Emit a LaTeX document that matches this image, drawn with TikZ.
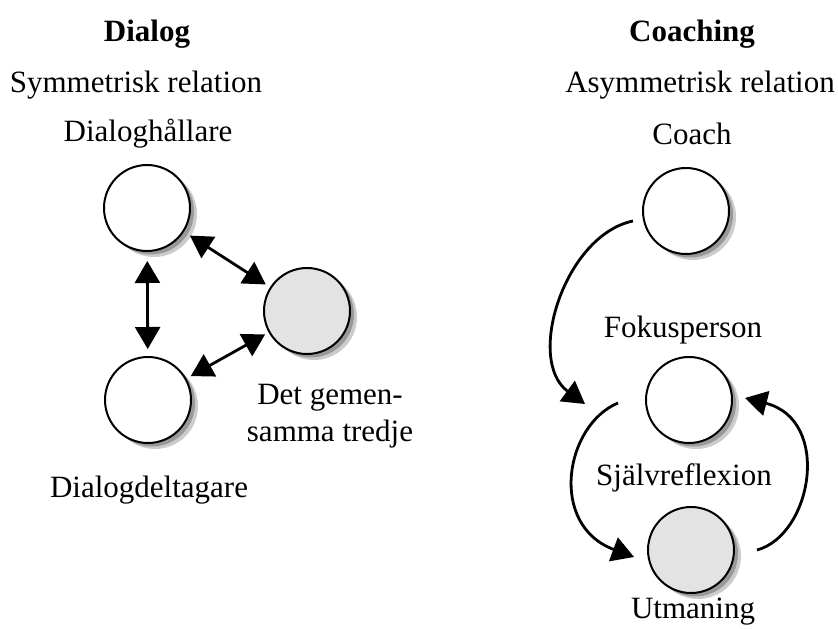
\documentclass[tikz,border=0pt]{standalone}
\usepackage{fontspec}
\setmainfont{Liberation Serif}
\usetikzlibrary{arrows.meta,shadows}
\begin{document}
\begin{tikzpicture}[x=1pt,y=-1pt,
  lbl/.style={font=\fontsize{31}{37}\selectfont, inner sep=0pt, align=center},
  ttl/.style={lbl, font=\fontsize{31}{37}\selectfont\bfseries},
  circ/.style={circle, draw, line width=2pt, minimum size=86pt, inner sep=0pt, outer sep=0pt, fill=white,
    drop shadow={shadow xshift=7pt, shadow yshift=-6pt, fill=gray!40, opacity=1},
    drop shadow={shadow xshift=4pt, shadow yshift=-3.5pt, fill=gray!80, opacity=1}},
  gcirc/.style={circ, fill=gray!22},
  arr/.style={line width=2.8pt, -{Triangle[length=22pt,width=25pt]}},
  darr/.style={line width=2.8pt, {Triangle[length=22pt,width=25pt]}-{Triangle[length=22pt,width=25pt]}}
]
\useasboundingbox (0,0) rectangle (838,629);
% Left: Dialog
\node[ttl] (t1) at (147,34) {Dialog};
\node[lbl] (s1) at (136,85) {Symmetrisk relation};
\node[lbl] (l1) at (148,134) {Dialoghållare};
\node[circ] (dh) at (147,208) {};
\node[circ] (dd) at (148,400) {};
\node[gcirc] (gt) at (307,311) {};
\node[lbl] (l2) at (330,416) {Det gemen-\\samma tredje};
\node[lbl] (l3) at (149,490) {Dialogdeltagare};
\draw[darr, shorten <=10pt, shorten >=8pt] (dh) -- (dd);
\draw[darr, shorten <=8pt, shorten >=6pt] (dh) -- (gt);
\draw[darr, shorten <=6pt, shorten >=5pt] (dd) -- (gt);
% Right: Coaching
\node[ttl] (t2) at (692,34) {Coaching};
\node[lbl] (s2) at (700,85) {Asymmetrisk relation};
\node[lbl] (l4) at (692,134) {Coach};
\node[circ] (co) at (686,211) {};
\node[lbl] (l5) at (683,330) {Fokusperson};
\node[circ] (fp) at (689,400) {};
\node[lbl] (l6) at (684,478) {Självreflexion};
\node[gcirc] (ut) at (691,550) {};
\node[lbl] (l7) at (693,612) {Utmaning};
\coordinate (a1s) at (633,221);
\coordinate (a1e) at (585,404);
\coordinate (a2s) at (618,403);
\coordinate (a2e) at (634,557);
\coordinate (a3s) at (757,550);
\coordinate (a3e) at (745,398);
\draw[arr] (a1s) .. controls (565,235) and (525,360) .. (a1e);
\draw[arr] (a2s) .. controls (565,425) and (548,525) .. (a2e);
\draw[arr] (a3s) .. controls (812,535) and (832,420) .. (a3e);
\end{tikzpicture}
\end{document}
